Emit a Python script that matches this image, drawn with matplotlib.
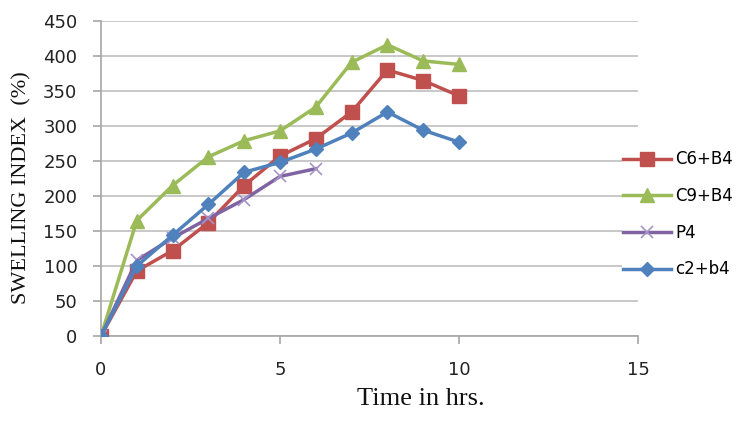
import matplotlib
matplotlib.use("Agg")
import matplotlib.pyplot as plt

# time (hrs) and swelling index (%)
t_long = [0, 1, 2, 3, 4, 5, 6, 7, 8, 9, 10]
t_p4 = [0, 1, 2, 3, 4, 5, 6]
c6_b4 = [0, 93, 122, 162, 215, 257, 282, 320, 380, 365, 343]
c9_b4 = [0, 165, 215, 256, 279, 293, 327, 391, 416, 393, 388]
p4 = [0, 108, 140, 168, 195, 228, 239]
c2_b4 = [0, 100, 144, 188, 234, 248, 267, 290, 320, 294, 277]

x_ticks = [0, 5, 10, 15]
y_ticks = [0, 50, 100, 150, 200, 250, 300, 350, 400, 450]

fig = plt.figure(figsize=(7.54, 4.22), dpi=100)
ax = fig.add_axes([101 / 754, 1 - 336 / 422, 537 / 754, 315 / 422])

ax.plot(t_long, c6_b4, color="#C0504D", lw=2.5, marker="s", ms=10,
        label="C6+B4", zorder=3)
ax.plot(t_long, c9_b4, color="#9BBB59", lw=2.5, marker="^", ms=10,
        label="C9+B4", zorder=4)
ax.plot(t_p4, p4, color="#8064A2", lw=2.5, marker="x", ms=9, mew=1.2,
        mec="#A594C8", label="P4", zorder=5)
ax.plot(t_long, c2_b4, color="#4F81BD", lw=2.5, marker="D", ms=7,
        label="c2+b4", zorder=6)

ax.set_xlim(0, 15)
ax.set_ylim(0, 450)
ax.set_xticks(x_ticks)
ax.set_yticks(y_ticks)
ax.yaxis.grid(True, color="#BFBFBF", lw=1.2)
ax.set_axisbelow(True)
for s in ["top", "right"]:
    ax.spines[s].set_visible(False)
for s in ["left", "bottom"]:
    ax.spines[s].set_color("#A6A6A6")
    ax.spines[s].set_linewidth(1.2)
ax.tick_params(axis="both", colors="#A6A6A6", length=6, width=1.2,
               labelcolor="#222222", labelsize=13)
ax.tick_params(axis="y", pad=11)
ax.tick_params(axis="x", pad=12)
for lab in ax.get_xticklabels() + ax.get_yticklabels():
    lab.set_family("DejaVu Sans")

ax.set_xlabel("Time in hrs.", family="Liberation Serif", fontsize=19,
              color="#111111")
ax.xaxis.set_label_coords(0.595, -0.165)
ax.set_ylabel("SWELLING INDEX  (%)", family="Liberation Serif", fontsize=16,
              color="#111111")
ax.yaxis.set_label_coords(-0.13, 0.47)

leg = fig.legend(loc="center left", bbox_to_anchor=(622 / 754, 1 - 214.5 / 422),
                 frameon=True, facecolor="white", edgecolor="none", framealpha=1,
                 fancybox=False, borderpad=0.05, borderaxespad=0,
                 handlelength=2.9, handletextpad=0.25, labelspacing=1.12,
                 prop={"family": "DejaVu Sans", "size": 12})

fig.savefig("out.png", dpi=100)
